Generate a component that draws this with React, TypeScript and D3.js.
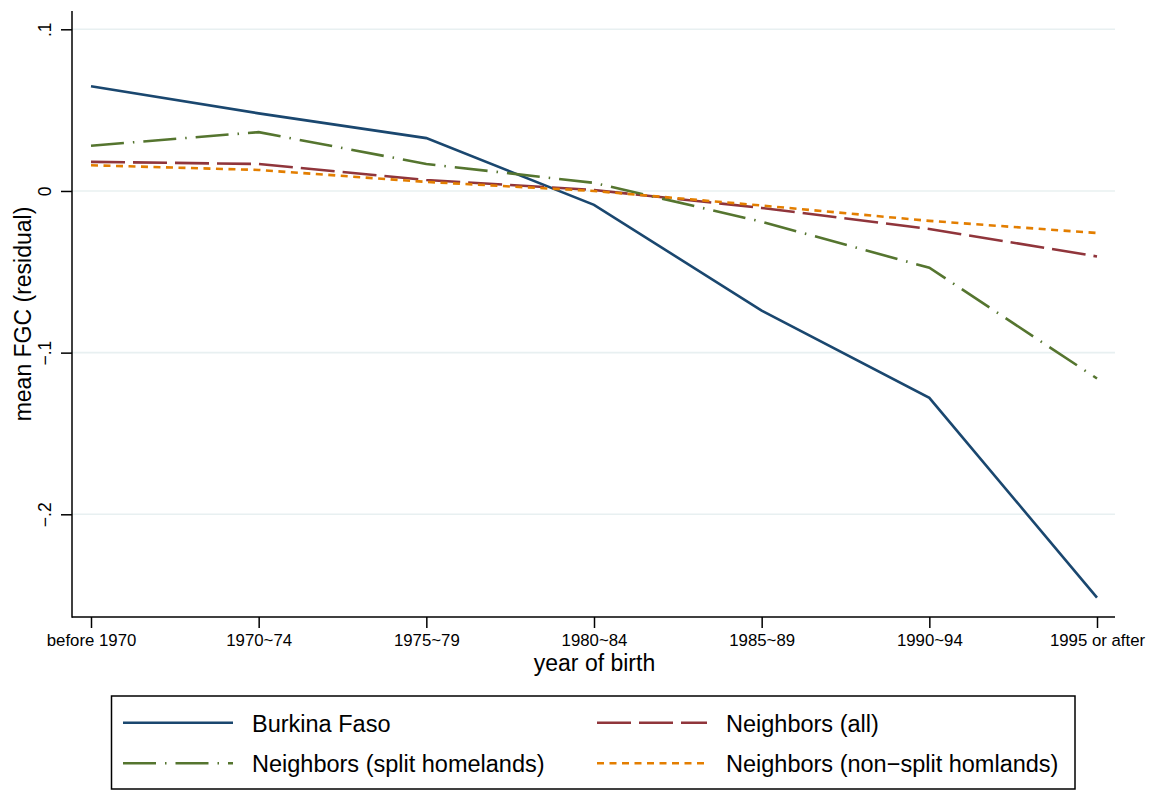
import React, { useEffect, useRef } from "react";
import * as d3 from "d3";

const cohorts = ["before 1970", "1970~74", "1975~79", "1980~84", "1985~89", "1990~94", "1995 or after"];
const burkina = [0.0648, 0.048, 0.0327, -0.0086, -0.074, -0.128, -0.2515];
const neighborsAll = [0.018, 0.0167, 0.0068, 0.0006, -0.0105, -0.0235, -0.0405];
const splitHomelands = [0.028, 0.0364, 0.0167, 0.005, -0.019, -0.0475, -0.116];
const nonSplit = [0.0159, 0.013, 0.0056, 0.0, -0.009, -0.0185, -0.026];
const yTicks = [-0.2, -0.1, 0, 0.1];

const series = [
  { name: "Burkina Faso", values: burkina, color: "#1a476f", dash: null },
  { name: "Neighbors (all)", values: neighborsAll, color: "#90353b", dash: "34,8" },
  { name: "Neighbors (split homelands)", values: splitHomelands, color: "#55752f", dash: "33,9,1.5,9" },
  { name: "Neighbors (non\u2212split homlands)", values: nonSplit, color: "#e37e00", dash: "7,5.5" },
];

const FONT = "'Liberation Sans', Arial, sans-serif";

const fmt = (v: number) => {
  if (v === 0) return "0";
  const s = Math.abs(v).toFixed(1).replace(/^0/, "");
  return (v < 0 ? "\u2212" : "") + s;
};

export default function App() {
  const ref = useRef<SVGSVGElement>(null);
  useEffect(() => {
    const node = ref.current;
    if (!node) return;
    const svg = d3.select(node);
    svg.selectAll("*").remove();
    const W = 1150, H = 790;
    const plot = { l: 72, r: 1115, t: 11, b: 617 };

    const x = d3.scalePoint<string>().domain(cohorts).range([91, 1097]);
    const y = d3.scaleLinear().domain([-0.2, 0.1]).range([514.3, 29.3]);

    svg.append("rect").attr("width", W).attr("height", H).attr("fill", "#fff");

    // grid
    svg.append("g").selectAll("line").data(yTicks).enter().append("line")
      .attr("x1", plot.l).attr("x2", plot.r)
      .attr("y1", (d) => y(d)).attr("y2", (d) => y(d))
      .attr("stroke", "#e8f0f1").attr("stroke-width", 1.6);

    // lines
    const line = d3.line<number>().x((_, i) => x(cohorts[i]) as number).y((d) => y(d));
    svg.append("g").selectAll("path").data(series).enter().append("path")
      .attr("d", (d) => line(d.values))
      .attr("fill", "none")
      .attr("stroke", (d) => d.color)
      .attr("stroke-width", 2.6)
      .attr("stroke-dasharray", (d) => d.dash);

    // y axis
    const ya = svg.append("g").attr("transform", `translate(${plot.l},0)`)
      .call(d3.axisLeft(y).tickValues(yTicks).tickSize(11).tickFormat((d) => fmt(+d)));
    ya.select(".domain").remove();
    ya.selectAll(".tick line").attr("stroke", "#000").attr("stroke-width", 1.5);
    ya.selectAll(".tick text")
      .attr("x", null).attr("dy", null)
      .attr("transform", `translate(${51 - plot.l},0) rotate(-90)`)
      .attr("text-anchor", "middle")
      .attr("font-family", FONT).attr("font-size", 17.5).attr("fill", "#000");

    // x axis
    const xa = svg.append("g").attr("transform", `translate(0,${plot.b})`)
      .call(d3.axisBottom(x).tickSize(11));
    xa.select(".domain").remove();
    xa.selectAll(".tick line").attr("stroke", "#000").attr("stroke-width", 1.5);
    xa.selectAll(".tick text")
      .attr("y", 29).attr("dy", null)
      .attr("font-family", FONT).attr("font-size", 16.8).attr("fill", "#000");

    // axis lines
    svg.append("line").attr("x1", plot.l).attr("x2", plot.l).attr("y1", plot.t).attr("y2", plot.b + 0.75)
      .attr("stroke", "#000").attr("stroke-width", 1.5);
    svg.append("line").attr("x1", plot.l).attr("x2", plot.r).attr("y1", plot.b).attr("y2", plot.b)
      .attr("stroke", "#000").attr("stroke-width", 1.5);

    // titles
    svg.append("text").attr("x", (plot.l + plot.r) / 2 + 1).attr("y", 671)
      .attr("text-anchor", "middle").attr("font-family", FONT).attr("font-size", 23).attr("fill", "#000")
      .text("year of birth");
    svg.append("text").attr("transform", `translate(31,${(plot.t + plot.b) / 2}) rotate(-90)`)
      .attr("text-anchor", "middle").attr("font-family", FONT).attr("font-size", 23).attr("fill", "#000")
      .text("mean FGC (residual)");

    // legend
    const lg = svg.append("g");
    lg.append("rect").attr("x", 111.5).attr("y", 696).attr("width", 963.5).attr("height", 93)
      .attr("fill", "#fff").attr("stroke", "#000").attr("stroke-width", 1.5);
    const cols = [123, 597];
    const rows = [722.7, 763.3];
    const items = lg.selectAll("g.item").data(series).enter().append("g")
      .attr("transform", (_, i) => `translate(${cols[i % 2]},${rows[Math.floor(i / 2)]})`);
    items.append("line").attr("x1", 0).attr("x2", 110).attr("y1", 0).attr("y2", 0)
      .attr("stroke", (d) => d.color).attr("stroke-width", 2.6)
      .attr("stroke-dasharray", (d) => d.dash);
    items.append("text").attr("x", 129).attr("y", 9)
      .attr("font-family", FONT).attr("font-size", 23.5).attr("fill", "#000")
      .text((d) => d.name);
  }, []);
  return (
    <svg ref={ref} width={1150} height={790}
      style={{ position: "absolute", left: 0, top: 0, display: "block" }} />
  );
}
